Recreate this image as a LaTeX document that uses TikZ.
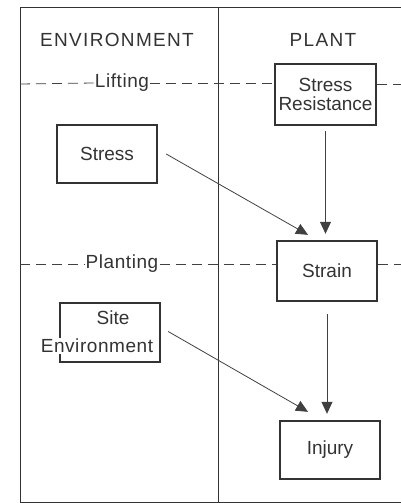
\documentclass[tikz,border=0pt]{standalone}
\usepackage{fontspec}
\setmainfont{Liberation Sans}
\usetikzlibrary{arrows.meta,positioning}

\begin{document}
\begin{tikzpicture}[x=1pt,y=-1pt]
\tikzstyle{every node}=[font=\fontsize{19}{22}\selectfont, text=black!80]
\tikzstyle{stagebox}=[rectangle, draw=black!80, line width=2.4pt, minimum width=100pt, minimum height=59pt, inner sep=1pt, align=center]
\tikzstyle{cut}=[draw=black!75, line width=0.8pt, dash pattern=on 10pt off 6pt]
\tikzstyle{link}=[draw=black!75, line width=0.8pt, -{Triangle[length=12pt,width=11pt]}]

\useasboundingbox (0,0) rectangle (401,503);

% frame
\coordinate (tl) at (20,7);
\coordinate (tr) at (401,7);
\coordinate (bl) at (20,502);
\coordinate (br) at (401,502);
\coordinate (mt) at (218,7);
\coordinate (mb) at (218,502);
\draw[black!80, line width=0.9pt] (tr) -- (tl) -- (bl) -- (br);
\draw[black!80, line width=0.9pt] (mt) -- (mb);

% column heads
\node at (117,40) (env) {\addfontfeatures{LetterSpace=7}ENVIRONMENT};
\node at (323,40) (plant) {\addfontfeatures{LetterSpace=7}PLANT};

% plant boxes
\node[stagebox, minimum width=101pt, minimum height=61pt] at (325.5,94.5) (sr) {Stress\\[-3pt]Resistance};
\node[stagebox, minimum height=60pt] at (327,271) (strain) {Strain};
\node[stagebox, minimum height=58pt] at (330,450) (injury) {Injury};

% environment boxes
\node[stagebox, minimum height=58pt] at (107,154) (stress) {Stress};
\node[stagebox] at (110,332.5) (site) {};
\node at (113,318) (sitetop) {Site};
\node[fill=white, inner sep=1pt] at (97,346) (sitebot) {\addfontfeatures{LetterSpace=3}Environment};

% lifting / planting lines
\node[inner sep=1pt] at (122,83) (lift) {\addfontfeatures{LetterSpace=3}Lifting};
\node[inner sep=1pt] at (122,264) (plan) {\addfontfeatures{LetterSpace=3}Planting};
\coordinate (liftl) at (20,84);
\coordinate (liftr) at (401,84);
\coordinate (planl) at (20,264);
\coordinate (planr) at (401,264);
\draw[cut] (liftl) -- (lift.west);
\draw[cut] (lift.east) -- (lift.east -| sr.west);
\draw[cut] (liftr -| sr.east) -- (liftr);
\draw[cut] (planl) -- (plan.west);
\draw[cut] (plan.east) -- (plan.east -| strain.west);
\draw[cut] (planr -| strain.east) -- (planr);

% arrows
\draw[link] ([xshift=8pt]stress.east) -- ([xshift=-19pt,yshift=5pt]strain.north);
\draw[link] ([yshift=-5pt]sr.south) -- ([yshift=6pt]sr.south |- strain.north);
\draw[link] ([yshift=-12pt]strain.south) -- ([yshift=6pt]strain.south |- injury.north);
\draw[link] ([xshift=7pt,yshift=1pt]site.east) -- ([xshift=-22pt,yshift=8pt]injury.north);

\end{tikzpicture}
\end{document}
